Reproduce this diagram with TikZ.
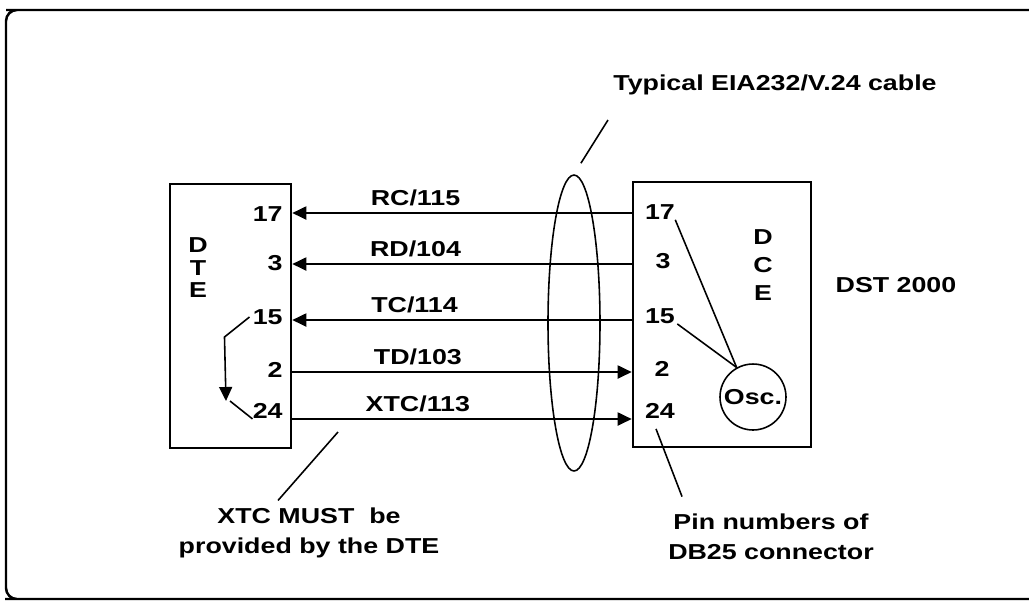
\documentclass[tikz,border=0pt]{standalone}
\usepackage{fontspec}
\setmainfont{Liberation Sans}[FakeStretch=1.24]
\usetikzlibrary{shapes.geometric}
\usetikzlibrary{positioning}
\usetikzlibrary{arrows.meta}
\tikzset{
    frame/.style = {draw=black, line width=1.4pt, rounded corners=0.22cm},
    box/.style = {rectangle, draw=black, line width=1.5pt},
    pin/.style = {inner sep=0pt},
    letters/.style = {align=center, inner sep=0pt},
    osc/.style = {circle, draw=black, line width=0.9pt, minimum size=1.32cm, inner sep=0pt},
    cable/.style = {ellipse, draw=black, line width=0.9pt, minimum width=1.04cm, minimum height=5.92cm, inner sep=0pt},
    note/.style = {align=center, font=\bfseries\fontsize{12.3}{17}\selectfont},
    sig/.style = {line width=1.1pt},
    sigl/.style = {line width=1.1pt,-{Triangle[length=0.28cm,width=0.26cm]}},
    leader/.style = {line width=0.9pt},
    lbl/.style = {above=2.5pt, inner sep=1pt},
    every picture/.style={font issue=\bfseries\fontsize{12.3}{14}},
    font issue/.style={execute at begin picture={#1\selectfont}
  }
}

\begin{document}
\begin{tikzpicture}[x=0.02cm,y=-0.02cm]
\useasboundingbox (0,0) rectangle (1029,600);
\draw[frame] (6,10) -- (1080,10) (1080,599) -- (16,599) [rounded corners=0.22cm] -- (6,599) -- (6,10) -- (40,10);
%
\node[box, minimum width=2.42cm, minimum height=5.28cm] at (230.5,316) (dte) {};
\node[box, minimum width=3.56cm, minimum height=5.30cm] at (722,314.5) (dce) {};
\node[letters, font=\bfseries\fontsize{12.3}{12.8}\selectfont] at (198,268) (dtename) {D\\T\\E};
\node[letters, font=\bfseries\fontsize{12.3}{15.9}\selectfont] at (763,265) (dcename) {D\\C\\E};
\node at (896,285) (dst) {DST 2000};
%
\node[pin, anchor=east] at (283,214) (dte17) {17};
\node[pin, anchor=east] at (283,263) (dte3) {3};
\node[pin, anchor=east] at (283,317) (dte15) {15};
\node[pin, anchor=east] at (283,370) (dte2) {2};
\node[pin, anchor=east] at (283,411) (dte24) {24};
\node[pin] at (660,212) (dce17) {17};
\node[pin] at (663,261) (dce3) {3};
\node[pin] at (660,316) (dce15) {15};
\node[pin] at (662,369) (dce2) {2};
\node[pin] at (660,411) (dce24) {24};
\node[osc] at (753,397) (osc) {Osc.};
\node[cable] at (574,323) (cable) {};
%
\coordinate (w17) at (0,213);
\coordinate (w3) at (0,264);
\coordinate (w15) at (0,320);
\coordinate (w2) at (0,372);
\coordinate (w24) at (0,419);
\draw[sigl] (dce.west |- w17) -- node[lbl, pos=0.637] {RC/115} (dte.east |- w17);
\draw[sigl] (dce.west |- w3) -- node[lbl, pos=0.637] {RD/104} (dte.east |- w3);
\draw[sigl] (dce.west |- w15) -- node[lbl, pos=0.64] {TC/114} (dte.east |- w15);
\draw[sigl] (dte.east |- w2) -- node[lbl, pos=0.37] {TD/103} (dce.west |- w2);
\draw[sigl] (dte.east |- w24) -- node[lbl, pos=0.37] {XTC/113} (dce.west |- w24);
%
\coordinate (loop) at (226,401);
\draw[sigl, line width=0.9pt] ([xshift=-0.06cm]dte15.west) -- ++(-25,20) -- (loop);
\draw[leader] ([xshift=0.08cm]loop) -- (dte24.south west);
\draw[leader] (dce17.south east) -- (osc.119);
\draw[leader] ([xshift=0.04cm]dce15.south east) -- (osc.119);
%
\node at (775,85) (cabletext) {Typical EIA232/V.24 cable};
\node[note] at (309,533) (dtenote) {XTC MUST\ \ be\\provided by the DTE};
\node[note] at (771,537) (pinnote) {Pin numbers of\\DB25 connector};
\coordinate (cabtip) at (608,120);
\coordinate (xtcmark) at (338,432);
\draw[leader, shorten <=0.26cm] (cable.north) -- (cabtip);
\draw[leader] ([xshift=-0.62cm]dtenote.north) -- (xtcmark);
\draw[leader] ([xshift=-0.08cm,yshift=-0.2cm]dce24.south) -- ([xshift=-1.78cm,yshift=0.2cm]pinnote.north);

\end{tikzpicture}
\end{document}
